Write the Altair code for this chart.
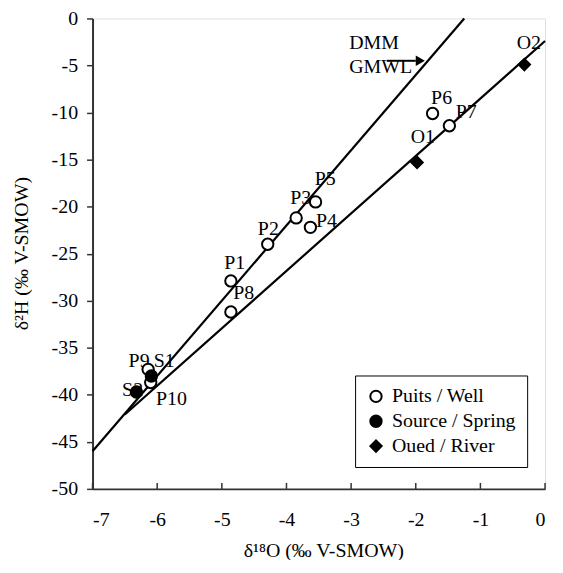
import altair as alt
import pandas as pd

# sample data
names = ["P1", "P2", "P3", "P4", "P5", "P6", "P7", "P8", "P9", "P10", "S1", "S2", "O1", "O2"]
d18o = [-4.86, -4.29, -3.85, -3.63, -3.55, -1.74, -1.48, -4.86, -6.14, -6.10, -6.09, -6.32, -1.98, -0.32]
d2h = [-27.9, -24.0, -21.2, -22.2, -19.5, -10.1, -11.4, -31.2, -37.3, -38.7, -38.0, -39.7, -15.3, -4.9]
kinds = ["Puits / Well"] * 10 + ["Source / Spring"] * 2 + ["Oued / River"] * 2
label_x = [-4.80, -4.28, -3.78, -3.38, -3.40, -1.60, -1.22, -4.66, -6.28, -5.78, -5.89, -6.38, -1.89, -0.25]
label_y = [-26.0, -22.4, -19.1, -21.5, -17.1, -8.5, -9.9, -29.2, -36.4, -40.5, -36.4, -39.5, -12.6, -2.6]

# lines (endpoints)
gmwl_x = [-7.0, -1.25]
gmwl_y = [-46.0, 0.0]
local_x = [-6.5, 0.0]
local_y = [-42.1, -2.4]

# annotation
ann_text = ["DMM", "GMWL"]
ann_x = [-3.03, -3.03]
ann_y = [-2.6, -5.2]
arrow_x = [-2.45, -2.0]
arrow_y = [-4.5, -4.5]
head_x = [-1.93]
head_y = [-4.5]

x_ticks = [-7, -6, -5, -4, -3, -2, -1, 0]
y_ticks = [0, -5, -10, -15, -20, -25, -30, -35, -40, -45, -50]

FONT = "Liberation Serif"
FS = 20

pts = pd.DataFrame({"name": names, "x": d18o, "y": d2h, "kind": kinds,
                    "lx": label_x, "ly": label_y})
lines = pd.DataFrame({
    "x": gmwl_x + local_x,
    "y": gmwl_y + local_y,
    "line": ["GMWL"] * 2 + ["local"] * 2,
})
ann = pd.DataFrame({"t": ann_text, "x": ann_x, "y": ann_y})
arr = pd.DataFrame({"x": arrow_x, "y": arrow_y})
head = pd.DataFrame({"x": head_x, "y": head_y})
xt = pd.DataFrame({"x": x_ticks, "y": [-50] * len(x_ticks), "y2": [-49.37] * len(x_ticks)})

xscale = alt.Scale(domain=[-7, 0], nice=False, zero=False)
yscale = alt.Scale(domain=[-50, 0], nice=False, zero=False)

xaxis = alt.Axis(values=x_ticks, title="δ¹⁸O (‰ V-SMOW)", grid=False, ticks=False,
                 labelExpr="toString(datum.value)",
                 labelPadding=21, labelFontSize=FS, labelFont=FONT, labelColor="black",
                 titleFont=FONT, titleFontSize=FS, titleFontWeight="normal", titleColor="black",
                 titleX=232, titleY=62, titleBaseline="middle",
                 domainColor="#333", domainWidth=2)
yaxis = alt.Axis(values=y_ticks, title="δ²H (‰ V-SMOW)", grid=False, tickSize=6,
                 labelExpr="toString(datum.value)",
                 tickColor="#333", tickWidth=1.5,
                 labelPadding=9, labelFontSize=FS, labelFont=FONT, labelColor="black",
                 titleFont=FONT, titleFontSize=FS, titleFontWeight="normal", titleColor="black",
                 titleX=-71, titleY=236, titleBaseline="middle", titleAngle=-90,
                 domainColor="#333", domainWidth=2)

base_x = alt.X("x:Q", scale=xscale, axis=xaxis)
base_y = alt.Y("y:Q", scale=yscale, axis=yaxis)

labels = alt.Chart(pts).mark_text(font=FONT, fontSize=FS, color="black").encode(
    x=alt.X("lx:Q", scale=xscale, axis=xaxis), y=alt.Y("ly:Q", scale=yscale, axis=yaxis), text="name:N"
)

line_layer = alt.Chart(lines).mark_line(color="black", strokeWidth=2.2).encode(
    x=base_x, y=base_y, detail="line:N"
)

ann_layer = alt.Chart(ann).mark_text(font=FONT, fontSize=FS, color="black", align="left").encode(
    x=base_x, y=base_y, text="t:N"
)
arrow_layer = alt.Chart(arr).mark_line(color="black", strokeWidth=2).encode(x=base_x, y=base_y)
head_layer = alt.Chart(head).mark_point(shape="triangle-right", size=110, filled=True,
                                         color="black", opacity=1).encode(x=base_x, y=base_y)

ticks_layer = alt.Chart(xt).mark_rule(color="#333", strokeWidth=1.5).encode(
    x=base_x, y=base_y, y2="y2:Q"
)

kind_domain = ["Puits / Well", "Source / Spring", "Oued / River"]
leg = alt.Legend(title=None, orient="none", legendX=264, legendY=359,
                 labelFont=FONT, labelFontSize=FS, labelColor="black",
                 strokeColor="black", fillColor="white", padding=11,
                 rowPadding=5, symbolSize=130, symbolStrokeWidth=2,
                 symbolOpacity=1, labelOffset=6)
points = alt.Chart(pts).mark_point(size=130, strokeWidth=2, opacity=1, filled=True).encode(
    x=base_x, y=base_y,
    shape=alt.Shape("kind:N", scale=alt.Scale(domain=kind_domain, range=["circle", "circle", "diamond"]),
                    legend=leg),
    fill=alt.Fill("kind:N", scale=alt.Scale(domain=kind_domain, range=["white", "black", "black"]),
                  legend=leg),
    stroke=alt.Stroke("kind:N", scale=alt.Scale(domain=kind_domain, range=["black", "black", "black"]),
                      legend=leg),
)

chart = alt.layer(labels, line_layer, ann_layer, arrow_layer, head_layer, ticks_layer, points).properties(
    width=455, height=473,
    autosize=alt.AutoSizeParams(type="none"),
    padding={"left": 85, "top": 9, "right": 10, "bottom": 70},
).configure_view(stroke="#888", strokeWidth=2).configure(background="white")

chart.save("out.html", embed_options={"renderer": "svg", "actions": False})
